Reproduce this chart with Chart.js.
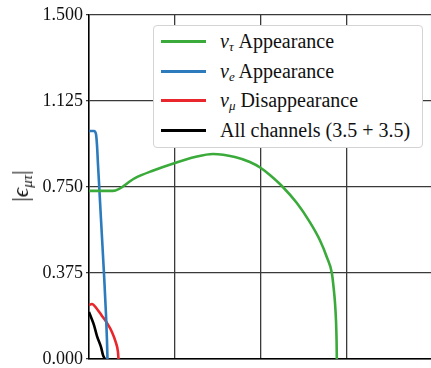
<!DOCTYPE html>
<html>
<head>
<meta charset="utf-8">
<script src="https://cdn.jsdelivr.net/npm/chart.js@4.4.1/dist/chart.umd.min.js"></script>
<style>
  body { margin: 0; background: #fff; overflow: hidden; }
  #wrap { position: relative; width: 431px; height: 368px; font-family: "Liberation Serif", serif; color: #111; }
  #ytitle { position: absolute; left: 22px; top: 186px; transform: translate(-50%, -50%) rotate(-90deg); font-size: 23px; white-space: nowrap; }
  #ytitle sub { font-size: 15px; vertical-align: -4px; }
  #legend { position: absolute; left: 153px; top: 25px; width: 268px; height: 121px; background: #fff; border: 1px solid #d4d4d4; border-radius: 4px; }
  .row { position: absolute; left: 0; height: 22px; font-size: 20px; line-height: 22px; white-space: nowrap; }
  .row i.sw { position: absolute; left: 7px; top: 10px; width: 45px; height: 3px; }
  .row span { position: absolute; left: 66px; top: 0; }
  sub { font-size: 13px; vertical-align: -3px; }
</style>
</head>
<body>
<div id="wrap">
  <canvas id="chart" width="431" height="368"></canvas>
  <div id="ytitle">|<i>ϵ</i><sub><i>μτ</i></sub>|</div>
  <div id="legend"></div>
</div>
<script>
// y grid / tick values
const yTicks = [0, 0.375, 0.75, 1.125, 1.5];
// vertical grid positions (x labels are cropped off in the source)
const xGrid = [1, 2, 3];

// nu_tau appearance
const tauX = [0, 0.279, 0.535, 0.733, 1.0, 1.233, 1.442, 1.698, 1.872, 2.0, 2.105, 2.256, 2.419, 2.570, 2.686, 2.767, 2.826, 2.847, 2.863, 2.874, 2.881, 2.884];
const tauY = [0.733, 0.733, 0.789, 0.820, 0.855, 0.881, 0.894, 0.881, 0.859, 0.833, 0.802, 0.750, 0.680, 0.597, 0.519, 0.445, 0.375, 0.310, 0.244, 0.170, 0.083, 0];

// nu_e appearance
const eX = [0, 0.058, 0.081, 0.093, 0.105, 0.116, 0.14, 0.174, 0.198, 0.209, 0.215];
const eY = [0.994, 0.994, 0.981, 0.933, 0.846, 0.772, 0.606, 0.375, 0.192, 0.083, 0];

// nu_mu disappearance
const muX = [0, 0.035, 0.093, 0.151, 0.209, 0.267, 0.314, 0.337, 0.343];
const muY = [0.235, 0.240, 0.218, 0.188, 0.157, 0.118, 0.070, 0.031, 0];

// all channels combined
const allX = [0, 0.023, 0.058, 0.093, 0.140, 0.163, 0.186];
const allY = [0.205, 0.183, 0.148, 0.100, 0.052, 0.017, 0];

const names = ['<i>ν</i><sub><i>τ</i></sub> Appearance', '<i>ν</i><sub><i>e</i></sub> Appearance',
               '<i>ν</i><sub><i>μ</i></sub> Disappearance', 'All channels (3.5 + 3.5)'];
const colors = ['#3aab3a', '#2b7bbd', '#e8262b', '#000000'];

const pts = (xs, ys) => xs.map((x, i) => ({ x: x, y: ys[i] }));
const series = [pts(tauX, tauY), pts(eX, eY), pts(muX, muY), pts(allX, allY)];

new Chart(document.getElementById('chart'), {
    type: 'scatter',
    data: {
        datasets: series.map((d, i) => ({
            data: d,
            showLine: true,
            borderColor: colors[i],
            backgroundColor: colors[i],
            borderWidth: 2.6,
            pointRadius: 0,
            cubicInterpolationMode: 'monotone',
        }))
    },
    options: {
        responsive: false,
        animation: false,
        events: [],
        layout: { padding: { top: 15, left: 0, right: 0, bottom: 9 } },
        plugins: { legend: { display: false }, tooltip: { enabled: false } },
        scales: {
            x: {
                type: 'linear',
                min: 0,
                max: 3.98,
                afterBuildTicks: (s) => { s.ticks = xGrid.map(v => ({ value: v })); },
                ticks: { display: false },
                grid: { color: '#3a3a3a', lineWidth: 1.3, drawTicks: false },
                border: { color: '#000', width: 1.6 },
            },
            y: {
                type: 'linear',
                min: 0,
                max: 1.5,
                afterBuildTicks: (s) => { s.ticks = yTicks.map(v => ({ value: v })); },
                afterFit: (s) => { s.width = 89; s.paddingTop = 0; s.paddingBottom = 0; },
                ticks: {
                    callback: (v) => v.toFixed(3),
                    color: '#111',
                    padding: 3,
                    font: { family: 'Liberation Serif', size: 18 },
                },
                grid: { color: '#3a3a3a', lineWidth: 1.3, tickLength: 3 },
                border: { color: '#000', width: 1.6 },
            }
        }
    }
});

const legend = document.getElementById('legend');
names.forEach((n, i) => {
    const row = document.createElement('div');
    row.className = 'row';
    row.style.top = (4 + i * 29.7) + 'px';
    row.innerHTML = '<i class="sw" style="background:' + colors[i] + '"></i><span>' + n + '</span>';
    legend.appendChild(row);
});
</script>
</body>
</html>
